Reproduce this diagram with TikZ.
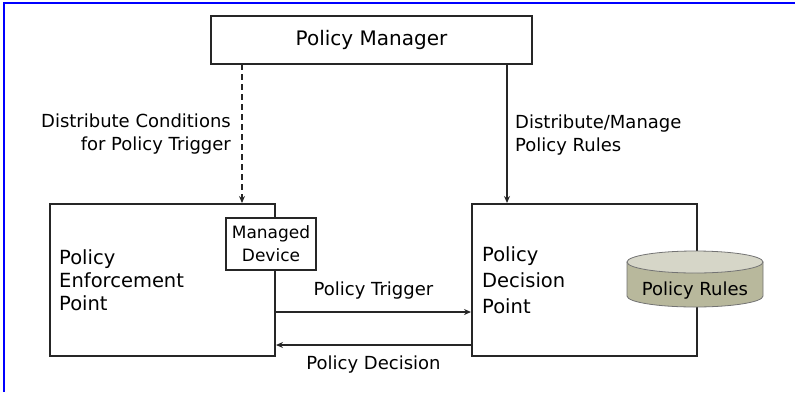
\documentclass[tikz,border=0pt]{standalone}
\usepackage{fontspec}
\setmainfont{DejaVu Sans}
\usetikzlibrary{arrows.meta, positioning}

\definecolor{drumside}{RGB}{184,184,156}
\definecolor{drumtop}{RGB}{214,214,200}

\begin{document}
\begin{tikzpicture}[
    x=1pt, y=-1pt,
    box/.style={draw=black!85, line width=2pt, fill=white, inner sep=0pt},
    lbl/.style={font=\fontsize{18}{23}\selectfont, inner sep=0pt},
    arrow/.style={-{Stealth[length=7pt, width=6pt]}, line width=1.7pt, draw=black!85},
    dasharrow/.style={arrow, dash pattern=on 6pt off 4pt}
]
\useasboundingbox (0,0) rectangle (795,392);
\draw[blue, line width=2pt] (4,392) -- (4,3) -- (795,3);

\node[box, minimum width=321pt, minimum height=48pt, font=\fontsize{20}{24}\selectfont] (manager) at (371.5,40) {Policy Manager};
\node[box, minimum width=225pt, minimum height=152pt] (pep) at (162.5,280) {};
\node[box, minimum width=225pt, minimum height=152pt] (pdp) at (584.5,280) {};
\node[box, minimum width=90pt, minimum height=52pt, align=center, font=\fontsize{17}{23}\selectfont] (device) at (271,244) {Managed\\Device};

% policy rules drum
\filldraw[fill=drumside, draw=black!55, line width=0.8pt] (627,262) -- (627,296) arc[start angle=180, end angle=0, x radius=68, y radius=11] -- (763,262) -- cycle;
\filldraw[fill=drumtop, draw=black!55, line width=0.8pt] (695,262) ellipse[x radius=68, y radius=11];
\node[font=\fontsize{18}{22}\selectfont, inner sep=0pt] (rules) at (695,291) {Policy Rules};

\node[anchor=west, align=left, font=\fontsize{19.5}{23}\selectfont, inner sep=0pt] (peptext) at ([xshift=10pt]pep.west) {Policy\\Enforcement\\Point};
\node[anchor=west, align=left, font=\fontsize{19.5}{26}\selectfont, inner sep=0pt] (pdptext) at ([xshift=11pt]pdp.west) {Policy\\Decision\\Point};

\coordinate (dashtop) at (242,64);
\coordinate (solidtop) at (507,64);
\draw[dasharrow] (dashtop) -- (dashtop |- pep.north);
\draw[arrow] (solidtop) -- (solidtop |- pdp.north);
\node[lbl, anchor=east, align=right] (condlbl) at (231,134) {Distribute Conditions\\for Policy Trigger};
\node[lbl, anchor=west, align=left] (ruleslbl) at (515,135) {Distribute/Manage\\Policy Rules};

\draw[arrow] ([yshift=-32pt]pep.east) -- ([yshift=-32pt]pdp.west) node[lbl, midway, above=12pt] (triglbl) {Policy Trigger};
\draw[arrow] ([yshift=-65pt]pdp.west) -- ([yshift=-65pt]pep.east) node[lbl, midway, below=10pt] (declbl) {Policy Decision};
\end{tikzpicture}
\end{document}
